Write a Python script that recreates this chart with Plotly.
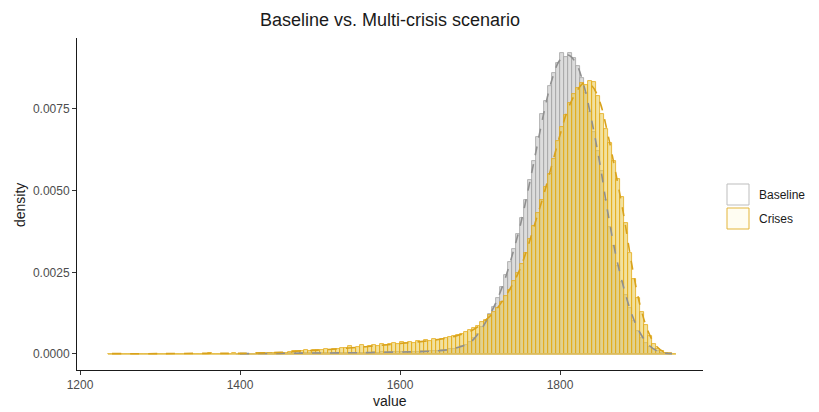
import numpy as np
import plotly.graph_objects as go

# ---------------- data ----------------
bin_width = 5.0

crises_start = 1237.5  # first bin centre
crises_density = [
    0.00001, 0, 0, 0, 0, 0, 0, 0, 0, 0,
    0, 0, 0, 0, 0, 0, 0, 0, 0, 0,
    0, 0, 0, 0, 0, 0.00003, 0, 0, 0, 0,
    0, 0.00003, 0.00001, 0.00001, 0.00001, 0.00001, 0.00001, 0.00002, 0.00002, 0.00002,
    0.00002, 0.00002, 0.00003, 0.00003, 0.00004,
    0.00006, 0.00008, 0.00010, 0.00009, 0.00011, 0.00010, 0.00012, 0.00011, 0.00013, 0.00014,
    0.00013, 0.00016, 0.00015, 0.00018, 0.00017, 0.00024, 0.00019, 0.00022, 0.00026, 0.00020,
    0.00024, 0.00027, 0.00025, 0.00031, 0.00028, 0.00030, 0.00033, 0.00031, 0.00036, 0.00034,
    0.00037, 0.00035, 0.00040, 0.00038, 0.00042, 0.00041, 0.00047, 0.00044, 0.00047, 0.00050,
    0.00053, 0.00055, 0.00058, 0.00062, 0.00066, 0.00072, 0.00080, 0.00087, 0.00098, 0.00105,
    0.00118, 0.00128, 0.00142, 0.00158, 0.00176, 0.00196, 0.00222, 0.00248, 0.00276, 0.00310,
    0.00352, 0.00392, 0.00432, 0.00472, 0.00512, 0.00552, 0.00598, 0.00652, 0.00695, 0.00732,
    0.00768, 0.00795, 0.00815, 0.00830, 0.00822, 0.00835, 0.00833, 0.00790, 0.00735, 0.00690,
    0.00645, 0.00590, 0.00535, 0.00480, 0.00400, 0.00310, 0.00230, 0.00170, 0.00130, 0.00090,
    0.00055, 0.00030, 0.00016, 0.00008, 0.00004, 0.00002, 0.00001,
]

baseline_start = 1397.5
baseline_density = [
    0.00001, 0.00001, 0.00001, 0.00001, 0.00001, 0.00001, 0.00001, 0.00001, 0.00002, 0.00001,
    0.00001, 0.00002, 0.00001, 0.00002, 0.00002, 0.00001, 0.00002, 0.00002, 0.00002, 0.00002,
    0.00002,
    0.00002, 0.00003, 0.00002, 0.00003, 0.00003, 0.00003, 0.00003, 0.00004, 0.00003, 0.00004,
    0.00004, 0.00004, 0.00004, 0.00005, 0.00004, 0.00005, 0.00005, 0.00005, 0.00005, 0.00005,
    0.00005, 0.00006, 0.00006, 0.00007, 0.00007, 0.00008, 0.00008, 0.00009, 0.00009, 0.00010,
    0.00011, 0.00012, 0.00014, 0.00016, 0.00019, 0.00023, 0.00028, 0.00036, 0.00048, 0.00062,
    0.00082, 0.00102, 0.00122, 0.00145, 0.00170, 0.00205, 0.00242, 0.00280, 0.00322, 0.00368,
    0.00415, 0.00470, 0.00532, 0.00590, 0.00665, 0.00735, 0.00775, 0.00820, 0.00860, 0.00890,
    0.00922, 0.00908, 0.00922, 0.00905, 0.00880, 0.00845, 0.00800, 0.00740, 0.00680, 0.00620,
    0.00560, 0.00470, 0.00390, 0.00330, 0.00270, 0.00220, 0.00180, 0.00140, 0.00100, 0.00070,
    0.00050, 0.00035, 0.00022, 0.00014, 0.00008, 0.00004, 0.00002, 0.00001,
]

# smoothed density curves (dashed lines)
baseline_kde_x = [1400, 1450, 1500, 1550, 1600, 1620, 1640, 1660, 1680, 1690, 1700, 1710,
                  1720, 1730, 1740, 1750, 1760, 1770, 1780, 1790, 1800, 1810, 1820, 1830,
                  1840, 1850, 1860, 1870, 1880, 1890, 1900, 1910, 1920, 1930, 1940]
baseline_kde_y = [0.00001, 0.00002, 0.00003, 0.00004, 0.00006, 0.00007, 0.00009, 0.00013,
                  0.00026, 0.00040, 0.00070, 0.00110, 0.00158, 0.00220, 0.00300, 0.00390,
                  0.00500, 0.00620, 0.00740, 0.00840, 0.00900, 0.00915, 0.00890, 0.00820,
                  0.00710, 0.00580, 0.00430, 0.00300, 0.00200, 0.00120, 0.00065, 0.00030,
                  0.00011, 0.00003, 0.00001]

crises_kde_x = [1240, 1300, 1360, 1400, 1450, 1480, 1500, 1550, 1600, 1650, 1670, 1690,
                1700, 1710, 1720, 1730, 1740, 1750, 1760, 1770, 1780, 1790, 1800, 1810,
                1820, 1830, 1840, 1850, 1860, 1870, 1880, 1890, 1900, 1910, 1920, 1930, 1940]
crises_kde_y = [0.00001, 0.00001, 0.00002, 0.00002, 0.00005, 0.00010, 0.00012, 0.00021,
                0.00032, 0.00045, 0.00055, 0.00072, 0.00088, 0.00110, 0.00135, 0.00170,
                0.00210, 0.00260, 0.00330, 0.00410, 0.00490, 0.00580, 0.00670, 0.00750,
                0.00800, 0.00830, 0.00820, 0.00770, 0.00670, 0.00550, 0.00420, 0.00270,
                0.00150, 0.00070, 0.00025, 0.00006, 0.00001]

series_names = ["Baseline", "Crises"]
x_ticks = [1200, 1400, 1600, 1800]
y_ticks = [0.0, 0.0025, 0.0050, 0.0075]
y_tick_labels = ["0.0000", "0.0025", "0.0050", "0.0075"]

# ---------------- styling ----------------
base_fill = "rgba(205,205,205,0.7)"
base_line = "#a3a3a3"
cris_fill = "rgba(232,200,80,0.55)"
cris_line = "#E3A915"

bx = baseline_start + bin_width * np.arange(len(baseline_density))
cx = crises_start + bin_width * np.arange(len(crises_density))

fig = go.Figure()

fig.add_trace(go.Bar(x=bx, y=baseline_density, width=bin_width,
                     marker=dict(color=base_fill, line=dict(color=base_line, width=0.8)),
                     name=series_names[0], showlegend=False))
fig.add_trace(go.Scatter(x=[bx[0] - bin_width / 2, bx[-1] + bin_width / 2], y=[0, 0],
                         mode="lines", line=dict(color=base_line, width=1),
                         showlegend=False, hoverinfo="skip"))
fig.add_trace(go.Bar(x=cx, y=crises_density, width=bin_width,
                     marker=dict(color=cris_fill, line=dict(color=cris_line, width=0.8)),
                     name=series_names[1], showlegend=False))
fig.add_trace(go.Scatter(x=[cx[0] - bin_width / 2, cx[-1] + bin_width / 2], y=[0, 0],
                         mode="lines", line=dict(color="#E6C35A", width=1.5),
                         showlegend=False, hoverinfo="skip"))
fig.add_trace(go.Scatter(x=baseline_kde_x, y=baseline_kde_y, mode="lines",
                         line=dict(color="#8f8f8f", width=1.6, dash="dash", shape="spline"),
                         showlegend=False))
fig.add_trace(go.Scatter(x=crises_kde_x, y=crises_kde_y, mode="lines",
                         line=dict(color="#D9A21B", width=1.6, dash="dash", shape="spline"),
                         showlegend=False))

# custom legend (ggplot-like keys)
L, T = 77, 38
PW, PH = 626, 332
def px_x(p):
    return (p - L) / PW
def px_y(p):
    return (T + PH - p) / PH

shapes = [
    dict(type="rect", xref="paper", yref="paper", x0=px_x(727), x1=px_x(749),
         y0=px_y(205), y1=px_y(184), line=dict(color="#bdbdbd", width=1), fillcolor="white"),
    dict(type="rect", xref="paper", yref="paper", x0=px_x(727), x1=px_x(749),
         y0=px_y(229), y1=px_y(208), line=dict(color="#E3B53A", width=1), fillcolor="#FFFDF2"),
]
annotations = [
    dict(text=series_names[0], xref="paper", yref="paper", x=px_x(757), y=px_y(195),
         xanchor="left", yanchor="middle", showarrow=False,
         font=dict(size=12, color="#1a1a1a", family="Liberation Sans, Arial, sans-serif")),
    dict(text=series_names[1], xref="paper", yref="paper", x=px_x(757), y=px_y(219),
         xanchor="left", yanchor="middle", showarrow=False,
         font=dict(size=12, color="#1a1a1a", family="Liberation Sans, Arial, sans-serif")),
    dict(text="value", xref="paper", yref="paper", x=px_x(390), y=px_y(401),
         xanchor="center", yanchor="middle", showarrow=False,
         font=dict(size=14, color="#1a1a1a")),
    dict(text="density", xref="paper", yref="paper", x=px_x(20), y=px_y(205),
         xanchor="center", yanchor="middle", showarrow=False, textangle=-90,
         font=dict(size=14, color="#1a1a1a")),
]

fig.update_layout(
    width=819, height=412,
    margin=dict(l=L, r=819 - L - PW, t=T, b=412 - T - PH, autoexpand=False),
    paper_bgcolor="white", plot_bgcolor="white",
    barmode="overlay", bargap=0,
    font=dict(family="Liberation Sans, Arial, sans-serif", color="#1a1a1a"),
    title=dict(text="Baseline vs. Multi-crisis scenario", x=px_x(390), xref="paper",
               xanchor="center", y=1 - 20 / 412, yanchor="middle",
               font=dict(size=18, color="#1a1a1a")),
    shapes=shapes, annotations=annotations,
    xaxis=dict(range=[1196.25, 1978.75], tickvals=x_ticks, showgrid=False, zeroline=False,
               showline=True, linecolor="#1a1a1a", linewidth=1, ticks="outside",
               ticklen=4, tickcolor="#333333", tickfont=dict(size=12, color="#4d4d4d"),
               automargin=False),
    yaxis=dict(range=[-0.00049, 0.00967], tickvals=y_ticks, ticktext=y_tick_labels,
               showgrid=False, zeroline=False, showline=True, linecolor="#1a1a1a",
               linewidth=1, ticks="outside", ticklen=4, tickcolor="#333333",
               tickfont=dict(size=12, color="#4d4d4d"), automargin=False),
)

fig.write_html("out.html")
